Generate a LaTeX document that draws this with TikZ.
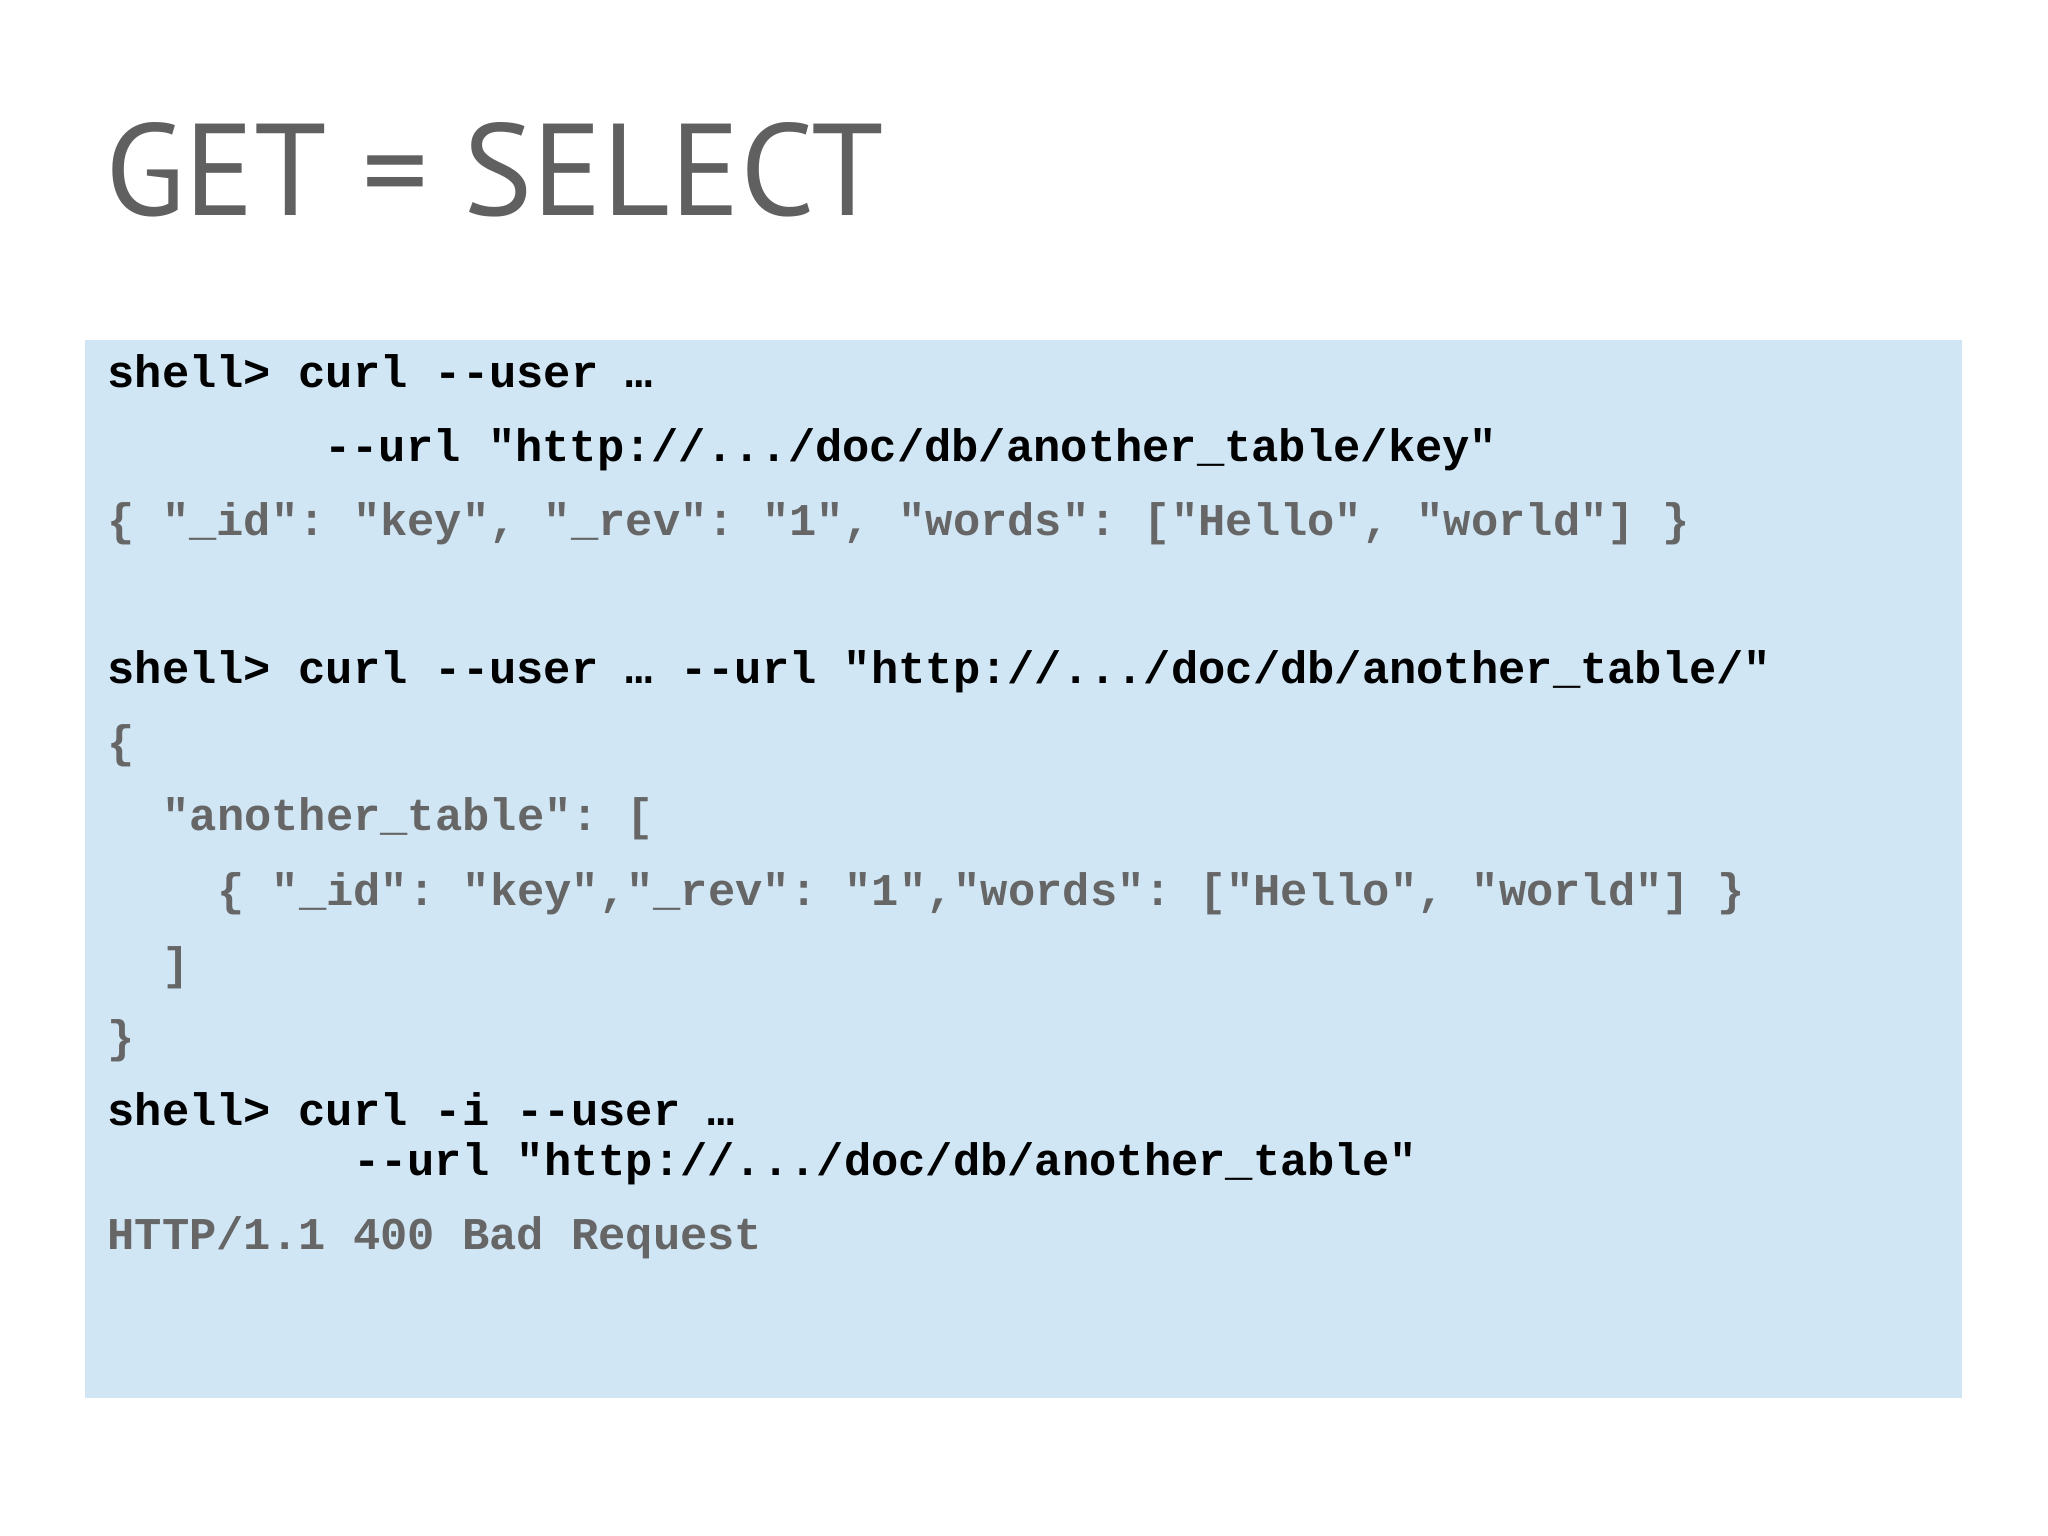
\documentclass[tikz,border=0pt]{standalone}
\usepackage{fontspec}
\setmainfont{PT Sans}
\setmonofont{Liberation Mono}
\definecolor{boxblue}{HTML}{D0E6F5}
\definecolor{outgray}{HTML}{666666}
\definecolor{titlegray}{HTML}{606060}
\begin{document}
\begin{tikzpicture}[x=0.5pt,y=-0.5pt,
  cmdline/.style={anchor=base west,inner sep=0pt,font=\ttfamily\bfseries\fontsize{17.4}{20}\selectfont,text=black},
  outline/.style={cmdline,text=outgray}]
\useasboundingbox (0,0) rectangle (1568,1176);
\fill[white] (0,0) rectangle (1568,1176);
\node[anchor=base west,inner sep=0pt,text=titlegray,font=\fontsize{50}{60}\selectfont] (title) at (80,165) {GET = SELECT};
\fill[boxblue] (65,260) rectangle (1502,1070);
\node[cmdline] (l1) at (82,297) {shell> curl --user …};
\node[cmdline] (l2) at (248,353) {--url "http://.../doc/db/another\_table/key"};
\node[outline] (l3) at (82,410) {\{ "\_id": "key", "\_rev": "1", "words": ["Hello", "world"] \}};
\node[cmdline] (l4) at (82,523) {shell> curl --user … --url "http://.../doc/db/another\_table/"};
\node[outline] (l5) at (82,580) {\{};
\node[outline] (l6) at (124,636) {"another\_table": [};
\node[outline] (l7) at (166,693) {\{ "\_id": "key","\_rev": "1","words": ["Hello", "world"] \}};
\node[outline] (l8) at (124,750) {]};
\node[outline] (l9) at (82,806) {\}};
\node[cmdline] (l10) at (82,862) {shell> curl -i --user …};
\node[cmdline] (l11) at (270,900) {--url "http://.../doc/db/another\_table"};
\node[outline] (l12) at (82,957) {HTTP/1.1 400 Bad Request};
\end{tikzpicture}
\end{document}
